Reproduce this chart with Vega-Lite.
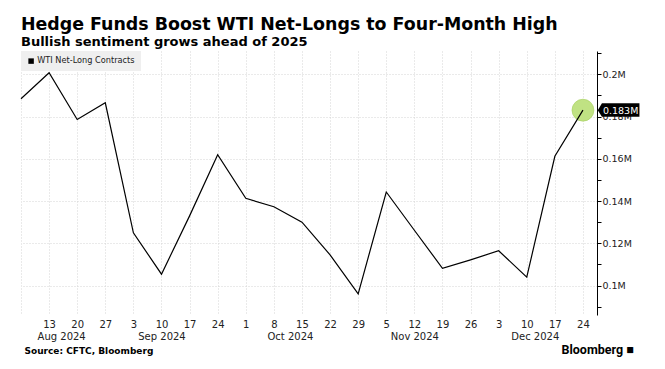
{
  "$schema": "https://vega.github.io/schema/vega-lite/v6.json",
  "width": 576,
  "height": 264,
  "autosize": {"type": "none"},
  "padding": {"left": 21, "top": 51, "right": 68, "bottom": 54},
  "background": "white",
  "config": {"view": {"stroke": null}, "font": "DejaVu Sans"},
  "title": {
    "text": "Hedge Funds Boost WTI Net-Longs to Four-Month High",
    "subtitle": "Bullish sentiment grows ahead of 2025",
    "anchor": "start",
    "frame": "group",
    "font": "DejaVu Sans",
    "fontSize": 17.4,
    "fontWeight": "bold",
    "color": "black",
    "subtitleFont": "DejaVu Sans",
    "subtitleFontSize": 13,
    "subtitleFontWeight": "bold",
    "subtitleColor": "black",
    "subtitlePadding": 3,
    "offset": 2
  },
  "data": {
    "values": [
      {"date": "2024-08-06", "value": 0.1884},
      {"date": "2024-08-13", "value": 0.2007},
      {"date": "2024-08-20", "value": 0.1786},
      {"date": "2024-08-27", "value": 0.1865},
      {"date": "2024-09-03", "value": 0.125},
      {"date": "2024-09-10", "value": 0.1054},
      {"date": "2024-09-17", "value": 0.133},
      {"date": "2024-09-24", "value": 0.1619},
      {"date": "2024-10-01", "value": 0.1413},
      {"date": "2024-10-08", "value": 0.1373},
      {"date": "2024-10-15", "value": 0.13},
      {"date": "2024-10-22", "value": 0.1145},
      {"date": "2024-10-29", "value": 0.0961},
      {"date": "2024-11-05", "value": 0.1443},
      {"date": "2024-11-12", "value": 0.1262},
      {"date": "2024-11-19", "value": 0.1082},
      {"date": "2024-11-26", "value": 0.1122},
      {"date": "2024-12-03", "value": 0.1165},
      {"date": "2024-12-10", "value": 0.104},
      {"date": "2024-12-17", "value": 0.1612},
      {"date": "2024-12-24", "value": 0.183}
    ]
  },
  "layer": [
    {
      "transform": [{"filter": "time(datum.date) == utc(2024, 11, 24)"}],
      "mark": {"type": "point", "filled": true, "fill": "#c0e283", "stroke": "#a5cf5c", "strokeWidth": 0.6, "opacity": 1, "size": 480},
      "encoding": {
        "x": {
          "field": "date", "type": "temporal",
          "scale": {"type": "utc", "nice": false, "domain": [{"year": 2024, "month": 8, "date": 6, "utc": true}, {"year": 2024, "month": 12, "date": 27, "hours": 12, "utc": true}]},
          "axis": {
            "orient": "bottom",
            "values": [
              {"year": 2024, "month": 8, "date": 16, "utc": true},
              {"year": 2024, "month": 9, "date": 10, "utc": true},
              {"year": 2024, "month": 10, "date": 12, "utc": true},
              {"year": 2024, "month": 11, "date": 12, "utc": true},
              {"year": 2024, "month": 12, "date": 12, "utc": true}
            ],
            "labelExpr": "utcFormat(datum.value, '%b %Y')",
            "ticks": false, "grid": false, "domain": false,
            "labelFont": "DejaVu Sans", "labelFontSize": 10, "labelColor": "#222",
            "labelPadding": 16, "labelOverlap": false, "labelFlush": false,
            "title": "Source: CFTC, Bloomberg",
            "titleFont": "DejaVu Sans", "titleFontSize": 9, "titleFontWeight": "bold", "titleColor": "black",
            "titleAnchor": "start", "titleAlign": "left", "titleX": 3, "titleY": 38, "titleBaseline": "alphabetic"
          }
        },
        "y": {"field": "value", "type": "quantitative", "scale": {"domain": [0.0861, 0.211], "zero": false, "nice": false}, "axis": null}
      }
    },
    {
      "mark": {"type": "line", "strokeWidth": 1.2, "interpolate": "linear"},
      "encoding": {
        "x": {
          "field": "date", "type": "temporal",
          "scale": {"type": "utc", "nice": false, "domain": [{"year": 2024, "month": 8, "date": 6, "utc": true}, {"year": 2024, "month": 12, "date": 27, "hours": 12, "utc": true}]},
          "axis": {
            "orient": "bottom",
            "values": [
              {"year": 2024, "month": 8, "date": 6, "utc": true},
              {"year": 2024, "month": 8, "date": 13, "utc": true},
              {"year": 2024, "month": 8, "date": 20, "utc": true},
              {"year": 2024, "month": 8, "date": 27, "utc": true},
              {"year": 2024, "month": 9, "date": 3, "utc": true},
              {"year": 2024, "month": 9, "date": 10, "utc": true},
              {"year": 2024, "month": 9, "date": 17, "utc": true},
              {"year": 2024, "month": 9, "date": 24, "utc": true},
              {"year": 2024, "month": 10, "date": 1, "utc": true},
              {"year": 2024, "month": 10, "date": 8, "utc": true},
              {"year": 2024, "month": 10, "date": 15, "utc": true},
              {"year": 2024, "month": 10, "date": 22, "utc": true},
              {"year": 2024, "month": 10, "date": 29, "utc": true},
              {"year": 2024, "month": 11, "date": 5, "utc": true},
              {"year": 2024, "month": 11, "date": 12, "utc": true},
              {"year": 2024, "month": 11, "date": 19, "utc": true},
              {"year": 2024, "month": 11, "date": 26, "utc": true},
              {"year": 2024, "month": 12, "date": 3, "utc": true},
              {"year": 2024, "month": 12, "date": 10, "utc": true},
              {"year": 2024, "month": 12, "date": 17, "utc": true},
              {"year": 2024, "month": 12, "date": 24, "utc": true}
            ],
            "labelExpr": "utcFormat(datum.value, '%m%d') == '0806' ? '' : utcFormat(datum.value, '%-d')",
            "grid": true, "gridColor": "#d4d4d4", "gridDash": [1, 2],
            "ticks": false, "domain": false,
            "labelFont": "DejaVu Sans", "labelFontSize": 10, "labelColor": "#222",
            "labelPadding": 4, "labelOverlap": false, "labelFlush": false,
            "title": null
          }
        },
        "y": {
          "field": "value", "type": "quantitative",
          "scale": {"domain": [0.0861, 0.211], "zero": false, "nice": false},
          "axis": {
            "orient": "right",
            "values": [0.1, 0.12, 0.14, 0.16, 0.18, 0.2],
            "labelExpr": "format(datum.value, '.2~f') + 'M'",
            "grid": true, "gridColor": "#d4d4d4", "gridDash": [1, 2],
            "domain": true, "domainColor": "black",
            "ticks": true, "tickColor": "black", "tickSize": 4,
            "labelFont": "DejaVu Sans", "labelFontSize": 9.5, "labelColor": "#222", "labelPadding": 1,
            "labelOverlap": false, "labelFlush": false,
            "title": "Bloomberg ■",
            "titleFont": "Roboto", "titleFontSize": 12.5, "titleFontWeight": "bold", "titleColor": "black",
            "titleAngle": 0, "titleAlign": "left", "titleBaseline": "alphabetic", "titleX": -36, "titleY": 302
          }
        },
        "color": {
          "datum": "WTI Net-Long Contracts", "type": "nominal",
          "scale": {"range": ["black"]},
          "legend": {
            "orient": "top-left", "offset": 0, "title": null,
            "fillColor": "#efefef", "padding": 6, "cornerRadius": 0,
            "symbolType": "square", "symbolSize": 30, "symbolFillColor": "black", "symbolStrokeColor": "black", "symbolStrokeWidth": 0,
            "labelFont": "DejaVu Sans", "labelFontSize": 8.2, "labelColor": "#222", "labelOffset": 2
          }
        }
      }
    },
    {
      "transform": [{"filter": "time(datum.date) == utc(2024, 11, 24)"}],
      "mark": {"type": "point", "shape": "M1.48,0L1.9,-0.69L5.65,-0.69L5.65,0.65L1.9,0.65Z", "filled": true, "fill": "black", "strokeWidth": 0, "opacity": 1, "size": 400},
      "encoding": {
        "x": {"field": "date", "type": "temporal", "scale": {"type": "utc", "nice": false, "domain": [{"year": 2024, "month": 8, "date": 6, "utc": true}, {"year": 2024, "month": 12, "date": 27, "hours": 12, "utc": true}]}, "axis": null},
        "y": {
          "field": "value", "type": "quantitative",
          "scale": {"domain": [0.0861, 0.211], "zero": false, "nice": false},
          "axis": {
            "orient": "right",
            "values": [0.09, 0.11, 0.13, 0.15, 0.17, 0.19, 0.21],
            "labels": false, "grid": false, "domain": false,
            "ticks": true, "tickColor": "black", "tickSize": 4,
            "title": null
          }
        }
      }
    },
    {
      "transform": [{"filter": "time(datum.date) == utc(2024, 11, 24)"}],
      "mark": {"type": "text", "text": {"expr": "format(datum.value, '.3f') + 'M'"}, "align": "left", "baseline": "middle", "dx": 20, "dy": 0.5, "font": "DejaVu Sans", "fontSize": 9.5, "fill": "white"},
      "encoding": {
        "x": {"field": "date", "type": "temporal", "scale": {"type": "utc", "nice": false, "domain": [{"year": 2024, "month": 8, "date": 6, "utc": true}, {"year": 2024, "month": 12, "date": 27, "hours": 12, "utc": true}]}, "axis": null},
        "y": {"field": "value", "type": "quantitative", "scale": {"domain": [0.0861, 0.211], "zero": false, "nice": false}, "axis": null}
      }
    }
  ],
  "resolve": {"axis": {"x": "independent", "y": "independent"}}
}
